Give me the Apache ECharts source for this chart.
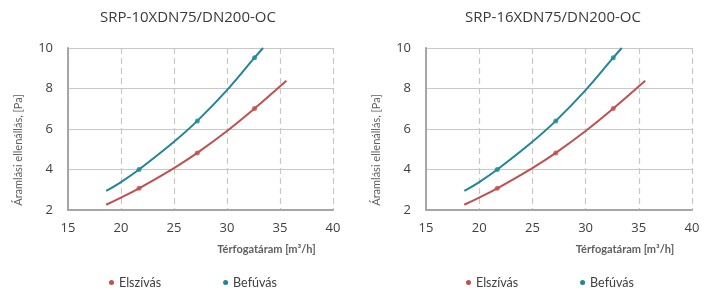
<!DOCTYPE html>
<html>
<head>
<meta charset="utf-8">
<script src="https://cdn.jsdelivr.net/npm/echarts@6/dist/echarts.min.js"></script>
<style>
html,body{margin:0;padding:0;background:#fff;}
#chart{width:706px;height:291px;}
</style>
</head>
<body>
<div id="chart"></div>
<script>
// a két típus mért adatai
var titles = ['SRP-10XDN75/DN200-OC', 'SRP-16XDN75/DN200-OC'];
var seriesNames = ['Elszívás', 'Befúvás'];
var xTicks = [15, 20, 25, 30, 35, 40];
var yTicks = [2, 4, 6, 8, 10];

// görbe pontjai: Elszívás
var elszivasFlow = [18.6, 20, 21.7, 25, 27.2, 30, 32.6, 35.6];
var elszivasPa   = [2.26, 2.61, 3.07, 4.07, 4.82, 5.9, 7.01, 8.38];
// görbe pontjai: Befúvás
var befuvasFlow = [18.6, 20, 21.7, 25, 27.2, 30, 32.6, 33.4];
var befuvasPa   = [2.94, 3.38, 4.0, 5.37, 6.4, 7.92, 9.52, 10];
// mérési pontok (jelölők)
var markFlow = [21.7, 27.2, 32.6];
var elszivasMarkPa = [3.07, 4.82, 7.01];
var befuvasMarkPa  = [4.0, 6.4, 9.52];

var colors = ['#c0504d', '#1f869a'];

function pairs(xs, ys){
	var out = [];
	for (var i = 0; i < xs.length; i++) out.push([xs[i], ys[i]]);
	return out;
}

var myChart = echarts.init(document.getElementById('chart'));

var grids = [
	{left: 68, right: 373, top: 48, bottom: 81},
	{left: 426, right: 14, top: 48, bottom: 81}
];
var titleX = [183, 548];
var legendX = [104, 461];

var option = {
	animation: false,
	title: [], grid: [], xAxis: [], yAxis: [], legend: [], series: []
};

for (var g = 0; g < 2; g++) {
	option.title.push({
		text: titles[g],
		left: titleX[g],
		textAlign: 'center',
		top: 5,
		textStyle: {fontFamily: 'Open Sans', fontSize: 15, fontWeight: 'normal', color: '#3a3a3a'}
	});
	option.grid.push(grids[g]);
	option.xAxis.push({
		type: 'value',
		gridIndex: g,
		min: xTicks[0],
		max: xTicks[xTicks.length - 1],
		interval: 5,
		name: 'Térfogatáram [m³/h]',
		nameLocation: 'middle',
		nameGap: 34,
		nameTextStyle: {fontFamily: 'Lato', fontSize: 11, fontWeight: 'bold', color: '#606060', padding: [0, 0, 0, 132]},
		axisLine: {show: true, lineStyle: {color: '#a6a6a6', width: 2}},
		axisTick: {show: false},
		axisLabel: {margin: 12, fontFamily: 'Open Sans', fontSize: 13, color: '#404040'},
		splitLine: {show: true, lineStyle: {color: '#c8c8c8', type: [6, 4], width: 1.2}}
	});
	option.yAxis.push({
		type: 'value',
		gridIndex: g,
		min: yTicks[0],
		max: yTicks[yTicks.length - 1],
		interval: 2,
		name: 'Áramlási ellenállás, [Pa]',
		nameLocation: 'middle',
		nameGap: 44,
		nameTextStyle: {fontFamily: 'Lato', fontSize: 11, color: '#606060', padding: [0, 42, 0, 0]},
		axisLine: {show: true, lineStyle: {color: '#a6a6a6', width: 2}},
		axisTick: {show: false},
		axisLabel: {margin: 15, fontFamily: 'Open Sans', fontSize: 13, color: '#404040'},
		splitLine: {show: true, lineStyle: {color: '#c8c8c8', width: 1.2}}
	});
	option.legend.push({
		data: seriesNames,
		left: legendX[g],
		top: 271,
		icon: 'circle',
		itemWidth: 5,
		itemHeight: 5,
		itemGap: 62,
		textStyle: {fontFamily: 'Lato', fontSize: 12.5, color: '#404040'}
	});
	var curves = [pairs(elszivasFlow, elszivasPa), pairs(befuvasFlow, befuvasPa)];
	var marks = [pairs(markFlow, elszivasMarkPa), pairs(markFlow, befuvasMarkPa)];
	for (var s = 0; s < 2; s++) {
		option.series.push({
			name: seriesNames[s],
			type: 'line',
			xAxisIndex: g,
			yAxisIndex: g,
			smooth: 0.4,
			symbol: 'none',
			color: colors[s],
			lineStyle: {width: 2, color: colors[s]},
			data: curves[s]
		});
		option.series.push({
			name: seriesNames[s],
			type: 'scatter',
			xAxisIndex: g,
			yAxisIndex: g,
			symbol: 'circle',
			symbolSize: 5,
			color: colors[s],
			itemStyle: {color: colors[s]},
			data: marks[s]
		});
	}
}

myChart.setOption(option);
</script>
</body>
</html>
